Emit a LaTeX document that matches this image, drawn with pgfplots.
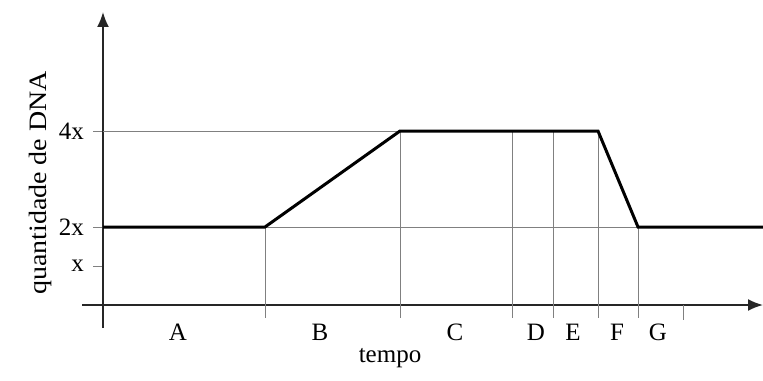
\documentclass[border=0pt]{standalone}
\usepackage{fontspec}
\setmainfont{Liberation Serif}
\usepackage{pgfplots}
\pgfplotsset{compat=1.18}
\usetikzlibrary{arrows.meta}
\definecolor{guide}{gray}{0.5}

\begin{document}
\begin{tikzpicture}
\useasboundingbox (0,0) rectangle (381.5pt,190pt);
\begin{axis}[
  x=0.5pt, y=0.5pt,
  anchor=origin, at={(51.5pt,37.5pt)},
  axis lines=middle,
  axis line style={line width=0.9pt, black!85, -{Latex[length=7.5pt,width=6pt]}},
  xmin=-21, xmax=660, ymin=-23, ymax=293,
  clip=false,
  ytick={39,78,174},
  yticklabels={x,2x,4x},
  ytick style={guide, line width=0.5pt},
  tick align=outside,
  major tick length=5pt,
  yticklabel style={font=\fontsize{12.5pt}{14pt}\selectfont, anchor=east, xshift=-1pt},
  xtick={75,217,352,433,470,514,555},
  xticklabels={A,B,C,D,E,F,G},
  xtick style={draw=none},
  xticklabel style={font=\fontsize{12.5pt}{14pt}\selectfont, anchor=north, yshift=-1pt},
  xlabel={tempo},
  xlabel style={at={(axis cs:287,-53)}, anchor=center, font=\fontsize{12.5pt}{14pt}\selectfont},
  ylabel={quantidade de DNA},
  ylabel style={at={(axis cs:-63,122)}, anchor=center, rotate=90, font=\fontsize{12.5pt}{14pt}\selectfont, xscale=1.12},
]
% guide lines
\addplot[guide, line width=0.5pt] coordinates {(0,174) (297,174)};
\addplot[guide, line width=0.5pt] coordinates {(0,78) (660,78)};
\addplot[guide, line width=0.5pt] coordinates {(162,78) (162,-13)};
\addplot[guide, line width=0.5pt] coordinates {(297,174) (297,-13)};
\addplot[guide, line width=0.5pt] coordinates {(409,174) (409,-13)};
\addplot[guide, line width=0.5pt] coordinates {(450,174) (450,-13)};
\addplot[guide, line width=0.5pt] coordinates {(495,174) (495,-13)};
\addplot[guide, line width=0.5pt] coordinates {(535,78) (535,-13)};
\addplot[guide, line width=0.5pt] coordinates {(580,0) (580,-15)};
% DNA amount
\addplot[black, line width=1.5pt] coordinates {(0,78) (162,78) (297,174) (495,174) (535,78) (660,78)};
\end{axis}
\end{tikzpicture}
\end{document}
